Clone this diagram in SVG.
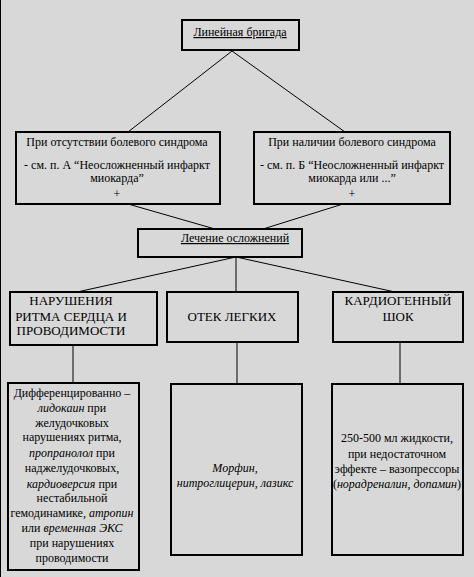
<svg xmlns="http://www.w3.org/2000/svg" width="474" height="577" viewBox="0 0 474 577">
<style>
text{font-family:"Liberation Serif","DejaVu Serif",serif;font-size:12px;fill:#000;text-anchor:middle}
.box{fill:none;stroke:#000;stroke-width:2}
.cap{font-size:13px}
.u{text-decoration:underline}
.i{font-style:italic}
#connectors line{stroke:#000;stroke-width:1}
</style>
<rect x="0" y="0" width="474" height="577" fill="#d8d8d8"/>
<line x1="0.5" y1="0" x2="0.5" y2="577" stroke="#000" stroke-width="1"/>
<g id="connectors">
<line x1="232" y1="51" x2="128" y2="132"/>
<line x1="232" y1="51" x2="345" y2="132"/>
<line x1="128" y1="204" x2="215" y2="229"/>
<line x1="343" y1="204" x2="263" y2="229"/>
<line x1="236" y1="257" x2="77" y2="292"/>
<line x1="236" y1="257" x2="236" y2="292"/>
<line x1="236" y1="257" x2="395" y2="292"/>
<line x1="73" y1="345" x2="73" y2="383"/>
<line x1="237" y1="342" x2="237" y2="384"/>
<line x1="400" y1="342" x2="400" y2="384"/>
</g>
<g id="n-brigade">
<rect class="box" x="182" y="20" width="117" height="30"/>
<text class="u" x="240" y="36">Линейная бригада</text>
</g>
<g id="n-no-pain">
<rect class="box" x="16" y="132" width="204" height="72"/>
<text x="117" y="146">При отсутствии болевого синдрома</text>
<text x="117" y="169">- см. п. А “Неосложненный инфаркт</text>
<text x="117" y="182">миокарда”</text>
<text x="117" y="198">+</text>
</g>
<g id="n-pain">
<rect class="box" x="254" y="132" width="196" height="72"/>
<text x="352" y="146">При наличии болевого синдрома</text>
<text x="352" y="169">- см. п. Б “Неосложненный инфаркт</text>
<text x="352" y="182">миокарда или ...”</text>
<text x="352" y="198">+</text>
</g>
<g id="n-treat">
<rect class="box" x="138" y="229" width="164" height="28"/>
<text class="u" x="235" y="242">Лечение осложнений</text>
</g>
<g id="n-rhythm">
<rect class="box" x="10" y="292" width="147" height="53"/>
<text class="cap" x="71" y="305">НАРУШЕНИЯ</text>
<text class="cap" x="71" y="321">РИТМА СЕРДЦА И</text>
<text class="cap" x="71" y="335">ПРОВОДИМОСТИ</text>
</g>
<g id="n-edema">
<rect class="box" x="167" y="292" width="131" height="50"/>
<text class="cap" x="232" y="321">ОТЕК ЛЕГКИХ</text>
</g>
<g id="n-shock">
<rect class="box" x="333" y="292" width="130" height="50"/>
<text class="cap" x="398" y="305">КАРДИОГЕННЫЙ</text>
<text class="cap" x="398" y="321">ШОК</text>
</g>
<g id="n-rhythm-tx">
<rect class="box" x="8" y="383" width="131" height="187"/>
<text x="72" y="397">Дифференцированно –</text>
<text x="72" y="412"><tspan class="i">лидокаин</tspan> при</text>
<text x="72" y="427">желудочковых</text>
<text x="72" y="441">нарушениях ритма,</text>
<text x="72" y="457"><tspan class="i">пропранолол</tspan> при</text>
<text x="72" y="472">наджелудочковых,</text>
<text x="72" y="488"><tspan class="i">кардиоверсия</tspan> при</text>
<text x="72" y="502">нестабильной</text>
<text x="72" y="517">гемодинамике, <tspan class="i">атропин</tspan></text>
<text x="72" y="532">или <tspan class="i">временная ЭКС</tspan></text>
<text x="72" y="547">при нарушениях</text>
<text x="72" y="562">проводимости</text>
</g>
<g id="n-edema-tx">
<rect class="box" x="171" y="384" width="131" height="171"/>
<text class="i" x="235" y="472">Морфин,</text>
<text class="i" x="235" y="487">нитроглицерин, лазикс</text>
</g>
<g id="n-shock-tx">
<rect class="box" x="332" y="384" width="131" height="171"/>
<text x="397" y="442">250-500 мл жидкости,</text>
<text x="397" y="458">при недостаточном</text>
<text x="397" y="473">эффекте – вазопрессоры</text>
<text x="397" y="488">(<tspan class="i">норадреналин, допамин</tspan>)</text>
</g>
</svg>
